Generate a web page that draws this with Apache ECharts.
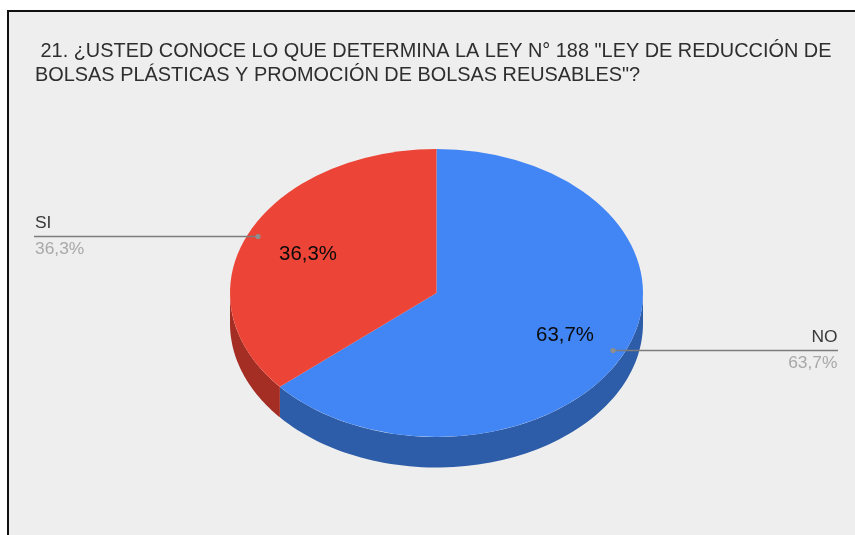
<!DOCTYPE html>
<html>
<head>
<meta charset="utf-8">
<style>
  html, body { margin: 0; padding: 0; background: #fff; }
  #chart { width: 855px; height: 535px; }
</style>
<script src="https://cdn.jsdelivr.net/npm/echarts@6/dist/echarts.min.js"></script>
</head>
<body>
<div id="chart"></div>
<script>
// datos
var titleLines = [
    ' 21. ¿USTED CONOCE LO QUE DETERMINA LA LEY N° 188 "LEY DE REDUCCIÓN DE',
    'BOLSAS PLÁSTICAS Y PROMOCIÓN DE BOLSAS REUSABLES"?'
];
var categories = ['NO', 'SI'];
var values = [63.7, 36.3];

// estilo por porcion
var topColors = ['#4285f4', '#ec4436'];
var sideColors = ['#2d5ca9', '#a52e24'];
var FONT = '"Liberation Sans", Arial, sans-serif';

// elipse del pastel
var cx = 436.5, cy = 293, rx = 206.5, ry = 144, depth = 30.5;

// etiquetas: pos del % interior, punto y linea guia
var labelPos = [
    { inX: 565, inY: 335, dotX: 613, lineY: 350, endX: 838, textX: 837.5, align: 'right' },
    { inX: 308, inY: 254, dotX: 258, lineY: 236, endX: 34, textX: 35, align: 'left' }
];

var total = values.reduce(function (a, b) { return a + b; }, 0);

function pct(v) {
    return v.toFixed(1).replace('.', ',') + '%';
}

// cara lateral visible (solo la mitad de abajo de la elipse)
function sidePoints(a0, a1) {
    var from = Math.max(a0, 0), to = Math.min(a1, Math.PI);
    if (to <= from) return null;
    var pts = [], n = 80, i, a;
    for (i = 0; i <= n; i++) {
        a = from + (to - from) * i / n;
        pts.push([cx + rx * Math.cos(a), cy + ry * Math.sin(a)]);
    }
    for (i = n; i >= 0; i--) {
        a = from + (to - from) * i / n;
        pts.push([cx + rx * Math.cos(a), cy + depth + ry * Math.sin(a)]);
    }
    return pts;
}

function renderSlice(params, api) {
    var idx = params.dataIndex;
    var before = 0;
    for (var i = 0; i < idx; i++) before += values[i];
    var start = -Math.PI / 2 + before / total * Math.PI * 2;
    var end = start + api.value(0) / total * Math.PI * 2;
    var children = [];
    var pts = sidePoints(start, end);
    if (pts) {
        children.push({
            type: 'polygon',
            z2: 1,
            shape: { points: pts },
            style: { fill: sideColors[idx] }
        });
    }
    children.push({
        type: 'group',
        x: cx,
        y: cy,
        scaleY: ry / rx,
        children: [{
            type: 'sector',
            z2: 2,
            shape: { cx: 0, cy: 0, r0: 0, r: rx, startAngle: start, endAngle: end, clockwise: true },
            style: { fill: topColors[idx] }
        }]
    });
    var p = labelPos[idx];
    children.push({
        type: 'text', z2: 5, x: p.inX, y: p.inY,
        style: { text: pct(api.value(0)), fill: '#0b0b0b', font: '20.4px ' + FONT, align: 'center', verticalAlign: 'middle' }
    });
    children.push({
        type: 'line', z2: 4,
        shape: { x1: p.dotX, y1: p.lineY + 0.5, x2: p.endX, y2: p.lineY + 0.5 },
        style: { stroke: '#7d7d7d', lineWidth: 1.4 }
    });
    children.push({
        type: 'circle', z2: 4,
        shape: { cx: p.dotX, cy: p.lineY + 0.5, r: 2.6 },
        style: { fill: '#8e8e8e' }
    });
    children.push({
        type: 'text', z2: 5, x: p.textX, y: p.lineY - 12.5,
        style: { text: categories[idx], fill: '#3a3a3a', font: '17.4px ' + FONT, align: p.align, verticalAlign: 'middle' }
    });
    children.push({
        type: 'text', z2: 5, x: p.textX, y: p.lineY + 13.5,
        style: { text: pct(api.value(0)), fill: '#a8a8a8', font: '17.4px ' + FONT, align: p.align, verticalAlign: 'middle' }
    });
    return { type: 'group', children: children };
}

var chart = echarts.init(document.getElementById('chart'));

var option = {
    animation: false,
    backgroundColor: '#fff',
    title: {
        text: titleLines.join('\n'),
        left: 30,
        top: 35,
        textStyle: {
            fontFamily: FONT,
            fontSize: 19.9,
            fontWeight: 'normal',
            color: '#2e2e2e',
            lineHeight: 24
        }
    },
    graphic: [{
        type: 'rect',
        z: -10,
        shape: { x: 8, y: 11, width: 900, height: 600 },
        style: { fill: '#eeeeee', stroke: '#111', lineWidth: 2 }
    }],
    series: [{
        type: 'custom',
        coordinateSystem: 'none',
        renderItem: renderSlice,
        data: values.map(function (v, i) { return { name: categories[i], value: [v] }; })
    }]
};

chart.setOption(option);
</script>
</body>
</html>
